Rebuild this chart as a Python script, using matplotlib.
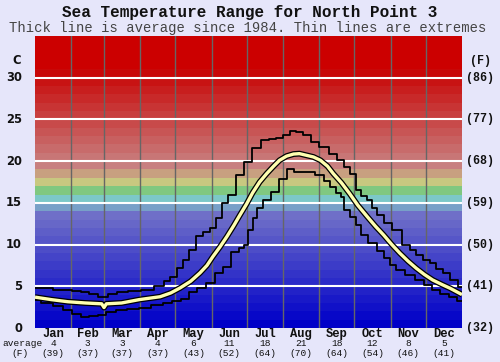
import numpy as np
import matplotlib
matplotlib.use("Agg")
import matplotlib.pyplot as plt

# day-of-year readings
avg_days = [0, 14, 28, 43, 57, 59, 61, 74, 89, 107, 116, 124, 133, 141, 147, 152, 158, 164, 170,
            175, 181, 186, 192, 198, 204, 209, 215, 221, 226, 232, 238, 244, 250, 255, 262, 269,
            276, 284, 291, 298, 305, 312, 319, 326, 333, 340, 348, 355, 365]
avg_temp = [3.7, 3.4, 3.15, 3.0, 2.9, 2.45, 2.9, 3.0, 3.4, 3.75, 4.2, 4.8, 5.6, 6.6, 7.5, 8.55, 9.7,
            10.95, 12.3, 13.5, 14.9, 16.2, 17.5, 18.5, 19.4, 20.1, 20.6, 20.85, 20.9, 20.7, 20.5,
            20.1, 19.4, 18.5, 17.4, 16.1, 14.7, 13.35, 12.2, 11.15, 10.0, 8.95, 8.0, 7.15, 6.4,
            5.75, 5.2, 4.75, 4.0]

max_days = [0, 10, 20, 28, 36, 43, 50, 58, 66, 74, 85, 96, 107, 113, 118, 124, 129, 134, 141, 147,
            152, 157, 162, 168, 175, 182, 189, 197, 203, 209, 215, 221, 226, 233, 238, 248, 255,
            261, 267, 272, 276, 281, 286, 290, 295, 302, 309, 318, 323, 329, 335, 340, 346, 352,
            358, 365]
max_temp = [4.8, 4.75, 4.6, 4.55, 4.45, 4.35, 4.1, 3.75, 4.1, 4.35, 4.4, 4.5, 5.0, 5.6, 6.15, 7.2,
            8.2, 9.35, 11.0, 11.5, 12.0, 13.2, 15.0, 15.9, 18.3, 19.9, 21.6, 22.5, 22.6, 22.8, 23.1,
            23.65, 23.5, 23.1, 22.3, 21.7, 20.9, 20.1, 19.3, 18.5, 16.5, 15.8, 15.3, 14.4, 13.5,
            12.6, 11.75, 9.95, 9.3, 8.75, 8.2, 7.75, 7.1, 6.55, 5.7, 4.95]

min_days = [0, 10, 20, 28, 36, 43, 50, 57, 65, 74, 84, 94, 104, 114, 121, 128, 135, 142, 150, 157,
            164, 171, 177, 181, 184, 188, 191, 198, 205, 212, 219, 224, 234, 244, 250, 255, 260,
            263, 266, 272, 276, 281, 289, 295, 301, 306, 312, 320, 329, 336, 343, 350, 357, 365]
min_temp = [3.3, 3.0, 2.6, 2.1, 1.7, 1.35, 1.4, 1.55, 1.9, 2.15, 2.3, 2.4, 2.7, 3.0, 3.2, 3.5, 4.35,
            4.8, 5.4, 6.6, 7.35, 9.15, 9.6, 9.95, 11.75, 13.2, 14.35, 15.3, 16.35, 17.9, 19.0, 18.7,
            18.7, 18.3, 17.6, 16.9, 16.2, 15.7, 14.1, 13.35, 12.3, 11.15, 10.15, 9.2, 8.35, 7.6,
            6.95, 6.3, 5.75, 5.1, 4.55, 4.1, 3.75, 3.2]

months = ["Jan", "Feb", "Mar", "Apr", "May", "Jun", "Jul", "Aug", "Sep", "Oct", "Nov", "Dec"]
month_start = [0, 31, 59, 90, 120, 151, 181, 212, 243, 273, 304, 334, 365]
month_avg_c = [4, 3, 3, 4, 6, 11, 18, 21, 18, 12, 8, 5]
month_avg_f = [39, 37, 37, 37, 43, 52, 64, 70, 64, 54, 46, 41]
c_ticks = [0, 5, 10, 15, 20, 25, 30]
f_ticks = [32, 41, 50, 59, 68, 77, 86]


def band_color(i):
    if i <= 13:
        v = int(8.6 * i)
        return (v / 255, v / 255, 200 / 255)
    special = {14: (120, 160, 200), 15: (124, 200, 200), 16: (128, 200, 128),
               17: (200, 200, 128), 18: (200, 160, 128), 19: (200, 128, 128)}
    if i in special:
        r, g, b = special[i]
        return (r / 255, g / 255, b / 255)
    if i <= 30:
        v = max(0, 118 - 11 * (i - 20))
        return (200 / 255, v / 255, v / 255)
    return (204 / 255, 0, 0)


W, H = 500, 362
fig = plt.figure(figsize=(W / 100, H / 100), dpi=100, facecolor="#e6e6fa")
ax = fig.add_axes([35 / W, 1 - 328 / H, 427 / W, 292 / H])

for i in range(35):
    ax.axhspan(i, i + 1, color=band_color(i), lw=0, zorder=0)

for d in month_start[1:-1]:
    ax.axvline(d, color="#666666", lw=1, zorder=1)
for t in c_ticks[1:]:
    ax.axhline(t, color="white", lw=1.5, zorder=2)

ax.plot(max_days, max_temp, color="black", lw=1.3, drawstyle="steps-mid", zorder=3)
ax.plot(min_days, min_temp, color="black", lw=1.3, drawstyle="steps-mid", zorder=3)
ax.plot(avg_days, avg_temp, color="black", lw=4.2, zorder=4, solid_capstyle="butt")
ax.plot(avg_days, avg_temp, color="#ffffb0", lw=2.4, zorder=5, solid_capstyle="butt")

ax.set_xlim(0, 365)
ax.set_ylim(0, 35)
ax.set_xticks([])
ax.set_yticks([])
for s in ax.spines.values():
    s.set_visible(False)

mono = "Liberation Mono"


def fy(py):
    return 1 - py / H


def ypix(t):
    return 328 - t * 292 / 35


fig.text(250 / W, fy(13), "Sea Temperature Range for North Point 3", ha="center", va="center",
         fontsize=11.5, fontweight="bold", family=mono, color="#111111")
fig.text(248 / W, fy(28), "Thick line is average since 1984. Thin lines are extremes", ha="center",
         va="center", fontsize=10, family=mono, color="#444444")

for c, f in zip(c_ticks, f_ticks):
    fig.text(22 / W, fy(ypix(c)), str(c), ha="right", va="center", fontsize=8.3,
             fontweight="bold", family="DejaVu Sans", color="#111111")
    fig.text(466 / W, fy(ypix(c)), f"({f})", ha="left", va="center", fontsize=8.4,
             fontweight="bold", family=mono, color="#111111")
fig.text(17 / W, fy(61), "C", ha="center", va="center", fontsize=8.3, fontweight="bold",
         family="DejaVu Sans", color="#111111")
fig.text(481 / W, fy(61), "(F)", ha="center", va="center", fontsize=8.4, fontweight="bold",
         family=mono, color="#111111")

for i, m in enumerate(months):
    mid = (month_start[i] + month_start[i + 1]) / 2
    px = 35 + mid * 427 / 365
    fig.text(px / W, fy(334), m, ha="center", va="center", fontsize=8.7, fontweight="bold",
             family=mono, color="#111111")
    fig.text(px / W, fy(344), str(month_avg_c[i]), ha="center", va="center", fontsize=6.8,
             family=mono, color="#111111")
    fig.text(px / W, fy(353), f"({month_avg_f[i]})", ha="center", va="center", fontsize=6.8,
             family=mono, color="#111111")
fig.text(2 / W, fy(344), "average", ha="left", va="center", fontsize=6.8, family=mono,
         color="#111111")
fig.text(20 / W, fy(353), "(F)", ha="center", va="center", fontsize=6.8, family=mono,
         color="#111111")

fig.savefig("out.png", dpi=100, facecolor=fig.get_facecolor())
